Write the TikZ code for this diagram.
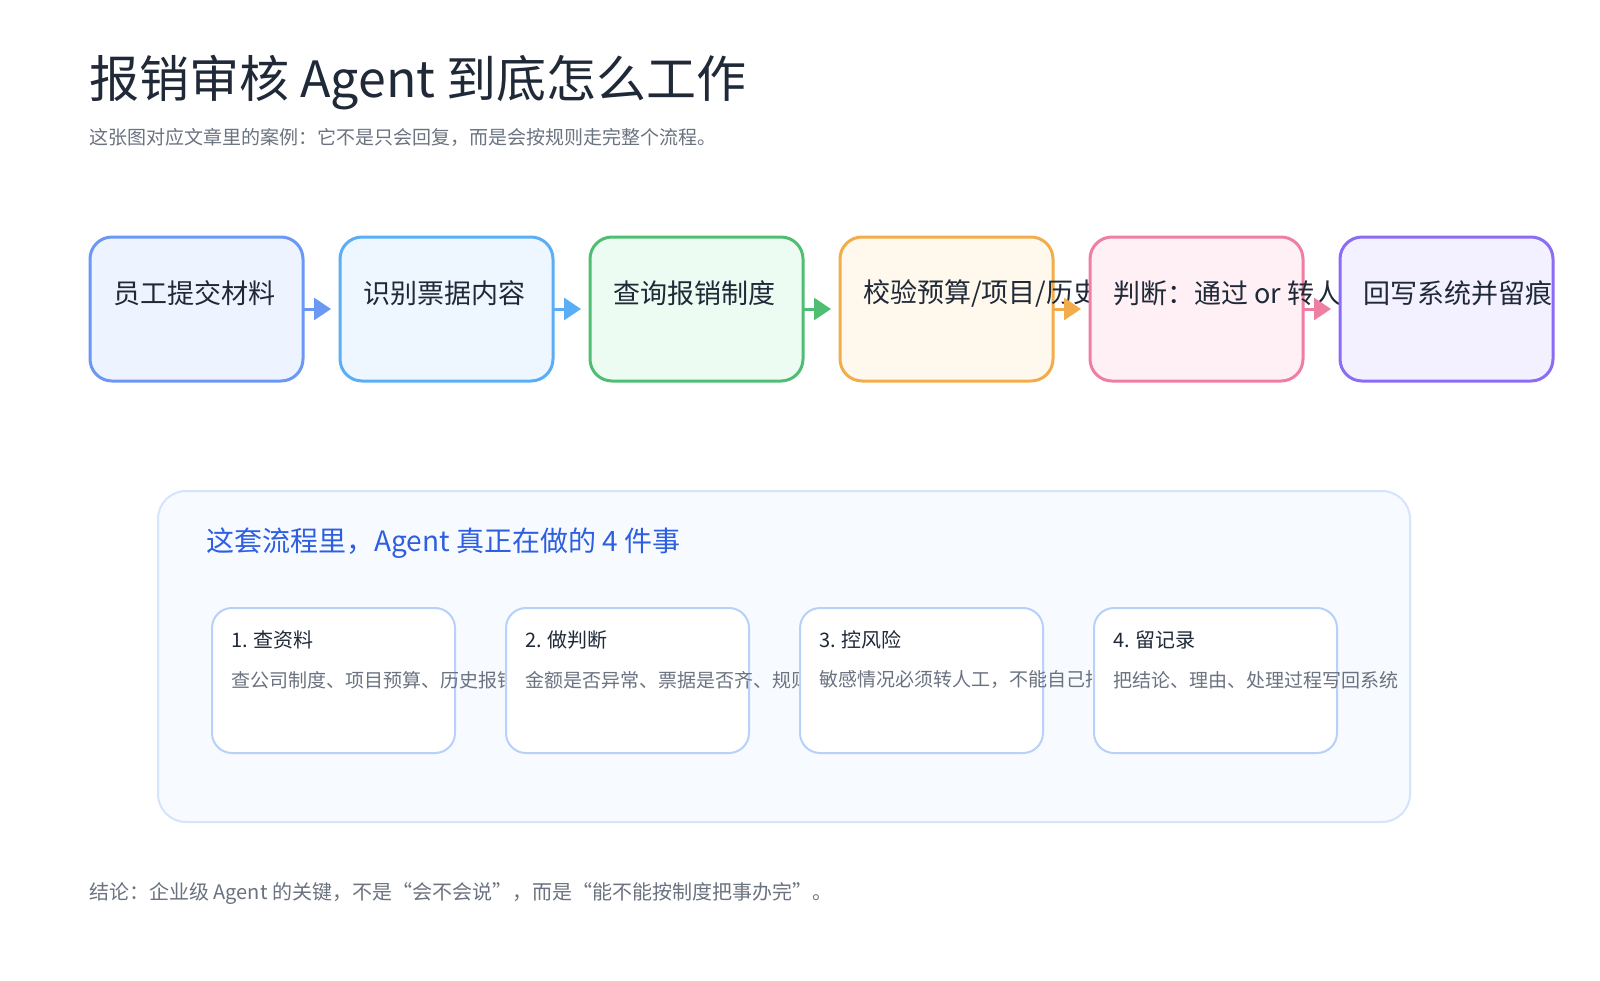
\documentclass[tikz,border=0pt]{standalone}
\usepackage{fontspec}
\setmainfont{Noto Sans CJK SC}
\usetikzlibrary{arrows.meta}
\definecolor{ink}{HTML}{1F2937}
\definecolor{gr}{HTML}{6B7280}
\definecolor{cA}{HTML}{6B97F5}\definecolor{fA}{HTML}{EEF4FF}
\definecolor{cB}{HTML}{5AAEF5}\definecolor{fB}{HTML}{EEF6FF}
\definecolor{cC}{HTML}{4FBE72}\definecolor{fC}{HTML}{ECFCF2}
\definecolor{cD}{HTML}{F2AD4A}\definecolor{fD}{HTML}{FFF8EC}
\definecolor{cE}{HTML}{EF7FA2}\definecolor{fE}{HTML}{FFF0F5}
\definecolor{cF}{HTML}{8B6CF5}\definecolor{fF}{HTML}{F3F0FF}
\definecolor{pb}{HTML}{D6E4FB}\definecolor{pf}{HTML}{F7FAFF}
\definecolor{cb}{HTML}{B9D0F8}\definecolor{hd}{HTML}{2D5FE0}
\begin{document}
\begin{tikzpicture}[x=1pt,y=-1pt,
 flowbox/.style={rounded corners=22pt,line width=3pt},
 stxt/.style={anchor=west,inner sep=0pt,font=\fontsize{27}{30}\selectfont,text=ink},
 arr/.style={line width=3pt,-{Triangle[length=17pt,width=22pt]}},
 card/.style={rounded corners=20pt,line width=2pt,draw=cb,fill=white},
 ctit/.style={anchor=west,inner sep=0pt,font=\fontsize{20}{24}\selectfont,text=ink},
 cbody/.style={anchor=west,inner sep=0pt,font=\fontsize{19}{22}\selectfont,text=gr}]
\fill[white] (0,0) rectangle (1600,980);
\useasboundingbox (0,0) rectangle (1600,980);
\node[anchor=west,inner sep=0pt,font=\fontsize{50}{56}\selectfont,text=ink] (title) at (89,83) {报销审核 Agent 到底怎么工作};
\node[anchor=west,inner sep=0pt,font=\fontsize{19}{22}\selectfont,text=gr] (sub) at (89,137) {这张图对应文章里的案例：它不是只会回复，而是会按规则走完整个流程。};
\def\stepbox#1#2#3#4#5{%
 \draw[flowbox,draw=#3,fill=#4] (#2,237) rectangle (#2+213,381);
 \coordinate (#1L) at (#2,309); \coordinate (#1R) at (#2+213,309);
 \node[stxt] (#1t) at (#2+23,293) {#5};}
\stepbox{s1}{90}{cA}{fA}{员工提交材料}
\draw[arr,cA] (s1R) -- (331,309);
\stepbox{s2}{340}{cB}{fB}{识别票据内容}
\draw[arr,cB] (s2R) -- (581,309);
\stepbox{s3}{590}{cC}{fC}{查询报销制度}
\draw[arr,cC] (s3R) -- (831,309);
\stepbox{s4}{840}{cD}{fD}{校验预算/项目/历史}
\draw[arr,cD] (s4R) -- (1081,309);
\stepbox{s5}{1090}{cE}{fE}{判断：通过 or 转人工}
\draw[arr,cE] (s5R) -- (1331,309);
\stepbox{s6}{1340}{cF}{fF}{回写系统并留痕}
\draw[rounded corners=28pt,line width=2pt,draw=pb,fill=pf] (158,491) rectangle (1410,822);
\node[anchor=west,inner sep=0pt,font=\fontsize{28}{32}\selectfont,text=hd] (hd) at (206,543) {这套流程里，Agent 真正在做的 4 件事};
\def\cardbox#1#2#3#4{%
 \draw[card] (#2,608) rectangle (#2+243,753);
 \node[ctit] (#1t) at (#2+19,640) {#3};
 \node[cbody] (#1b) at (#2+19,680) {#4};}
\cardbox{k1}{212}{1. 查资料}{查公司制度、项目预算、历史报销记录}
\cardbox{k2}{506}{2. 做判断}{金额是否异常、票据是否齐、规则是否满足}
\cardbox{k3}{800}{3. 控风险}{敏感情况必须转人工，不能自己拍板}
\cardbox{k4}{1094}{4. 留记录}{把结论、理由、处理过程写回系统}
\node[anchor=west,inner sep=0pt,font=\fontsize{20}{24}\selectfont,text=gr] (con) at (89,893) {结论：企业级 Agent 的关键，不是“会不会说”，而是“能不能按制度把事办完”。};
\end{tikzpicture}
\end{document}
